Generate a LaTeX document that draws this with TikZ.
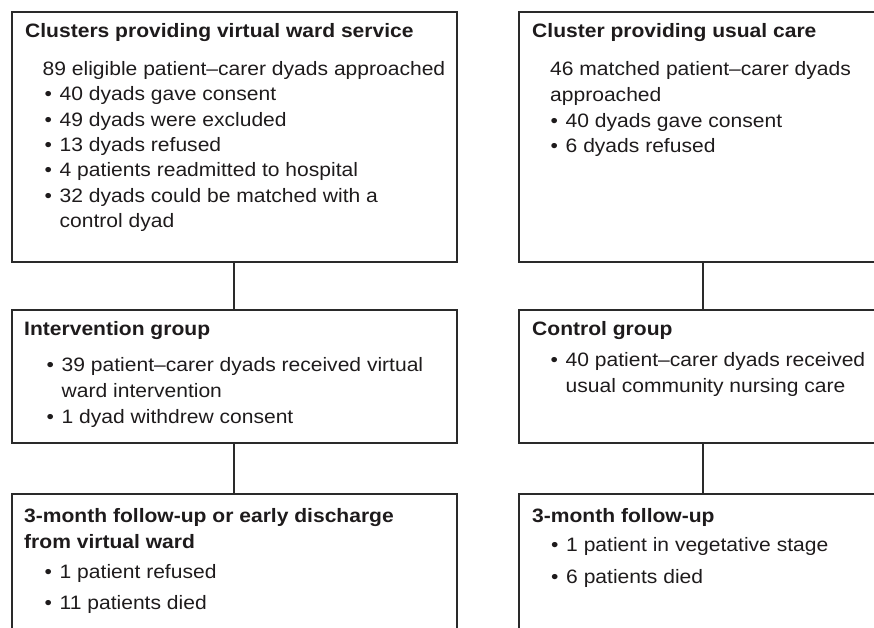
\documentclass[tikz,border=0pt]{standalone}
\usepackage{fontspec}
\setmainfont[FakeStretch=1.085]{Liberation Sans}
\begin{document}
\begin{tikzpicture}[x=1pt,y=-1pt,
  box/.style={draw=linecol,line width=1.3pt,fill=none},
  conn/.style={draw=linecol,line width=1.3pt},
  ttl/.style={anchor=base west,inner sep=0pt,text=txtcol,font=\fontsize{19.4}{25}\selectfont\bfseries},
  txt/.style={anchor=base west,inner sep=0pt,text=txtcol,font=\fontsize{19.4}{25}\selectfont}]
\definecolor{linecol}{HTML}{2A2A2A}
\definecolor{txtcol}{HTML}{1E1B1C}
\newcommand{\bul}{\makebox[15pt][l]{\textbullet}}
\newcommand{\nob}{\makebox[15pt][l]{}}
\useasboundingbox (0,0) rectangle (874,628);
\clip (0,0) rectangle (874,628);
% boxes
\draw[box] (12,12) rectangle (457,262);
\coordinate (a1) at (234,262);
\coordinate (a2) at (234,310);
\draw[box] (12,310) rectangle (457,443);
\coordinate (a3) at (234,443);
\coordinate (a4) at (234,494);
\draw[box] (12,494) rectangle (457,660);
\draw[box] (519,12) rectangle (920,262);
\coordinate (b1) at (703,262);
\coordinate (b2) at (703,310);
\draw[box] (519,310) rectangle (920,443);
\coordinate (b3) at (703,443);
\coordinate (b4) at (703,494);
\draw[box] (519,494) rectangle (920,660);
% connectors
\draw[conn] (a1) -- (a2);
\draw[conn] (a3) -- (a4);
\draw[conn] (b1) -- (b2);
\draw[conn] (b3) -- (b4);
% top left text
\node[ttl] (t1) at (25,38) {Clusters providing virtual ward service};
\node[txt] (t1a) at (42.5,75.5) {89 eligible patient–carer dyads approached};
\node[txt] (t1b) at (44.5,101) {\bul 40 dyads gave consent};
\node[txt] (t1c) at (44.5,126.3) {\bul 49 dyads were excluded};
\node[txt] (t1d) at (44.5,151.6) {\bul 13 dyads refused};
\node[txt] (t1e) at (44.5,176.9) {\bul 4 patients readmitted to hospital};
\node[txt] (t1f) at (44.5,202.2) {\bul 32 dyads could be matched with a};
\node[txt] (t1g) at (44.5,227.5) {\nob control dyad};
% intervention group
\node[ttl] (t2) at (24,335.7) {Intervention group};
\node[txt] (t2a) at (46.5,371.7) {\bul 39 patient–carer dyads received virtual};
\node[txt] (t2b) at (46.5,397.7) {\nob ward intervention};
\node[txt] (t2c) at (46.5,423.3) {\bul 1 dyad withdrew consent};
% bottom left
\node[ttl] (t3) at (24,522.7) {3-month follow-up or early discharge};
\node[ttl] (t3a) at (24,548.3) {from virtual ward};
\node[txt] (t3b) at (44.5,578.3) {\bul 1 patient refused};
\node[txt] (t3c) at (44.5,609.3) {\bul 11 patients died};
% top right
\node[ttl] (t4) at (532,38) {Cluster providing usual care};
\node[txt] (t4a) at (550,75.7) {46 matched patient–carer dyads};
\node[txt] (t4b) at (550,101.2) {approached};
\node[txt] (t4c) at (550.5,127.2) {\bul 40 dyads gave consent};
\node[txt] (t4d) at (550.5,152.3) {\bul 6 dyads refused};
% control group
\node[ttl] (t5) at (532,335.7) {Control group};
\node[txt] (t5a) at (550.5,366.7) {\bul 40 patient–carer dyads received};
\node[txt] (t5b) at (550.5,392.7) {\nob usual community nursing care};
% bottom right
\node[ttl] (t6) at (532,522.7) {3-month follow-up};
\node[txt] (t6a) at (551,551.7) {\bul 1 patient in vegetative stage};
\node[txt] (t6b) at (551,583.3) {\bul 6 patients died};
\end{tikzpicture}
\end{document}
